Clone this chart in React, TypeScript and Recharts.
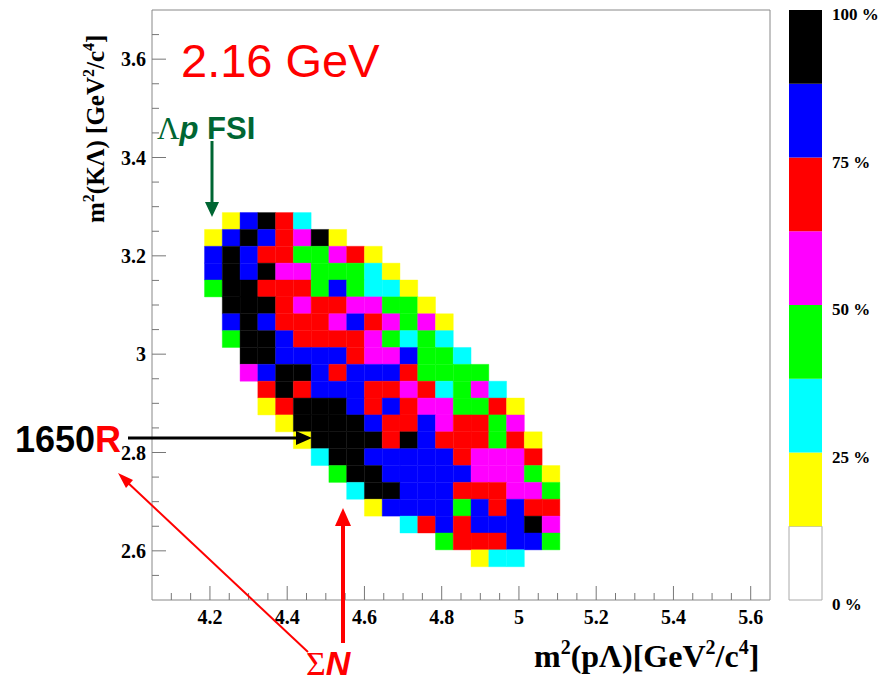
import React from 'react';
import { ScatterChart, XAxis, YAxis, ReferenceArea, BarChart, Bar } from 'recharts';

// axis ticks
const xMajor = [4.2, 4.4, 4.6, 4.8, 5, 5.2, 5.4, 5.6];
const yMajor = [2.6, 2.8, 3, 3.2, 3.4, 3.6];
const paletteTicks = [0, 25, 50, 75, 100];

// histogram binning (m2(pΛ) columns, m2(KΛ) rows counted from the top)
const xFirstEdge = 4.186;
const binW = 0.046;
const yFirstEdge = 3.288;
const binH = 0.0343;

// first occupied column of every row
const rowStart = [1, 0, 0, 0, 0, 1, 1, 1, 2, 2, 3, 3, 4, 5, 6, 7, 8, 9, 11, 13, 15];

// content of each bin in % of the maximum
const rowValues = [
  [19, 81, 94, 69, 31],
  [19, 81, 94, 81, 69, 56, 94, 19],
  [81, 94, 81, 69, 69, 44, 44, 56, 69, 19],
  [81, 94, 81, 94, 56, 56, 44, 44, 44, 31, 19],
  [44, 94, 94, 69, 69, 69, 44, 81, 44, 31, 31, 19],
  [94, 94, 94, 69, 56, 69, 69, 56, 56, 44, 44, 19],
  [81, 94, 81, 69, 69, 69, 56, 81, 69, 56, 44, 56, 19],
  [44, 94, 94, 81, 69, 69, 69, 69, 56, 44, 31, 44, 31],
  [94, 94, 81, 81, 81, 81, 69, 56, 56, 81, 44, 44, 31],
  [56, 81, 94, 94, 81, 69, 81, 81, 81, 69, 44, 44, 44, 44],
  [69, 94, 69, 81, 81, 81, 69, 69, 56, 69, 31, 44, 56, 31],
  [19, 69, 94, 94, 94, 81, 69, 81, 69, 56, 56, 44, 44, 69, 19],
  [19, 94, 94, 94, 94, 81, 69, 69, 81, 56, 69, 69, 44, 56],
  [19, 94, 94, 94, 94, 69, 94, 81, 69, 69, 69, 44, 69, 19],
  [31, 94, 94, 81, 81, 81, 81, 81, 69, 56, 56, 56, 69],
  [44, 94, 94, 81, 81, 81, 81, 81, 56, 56, 56, 44, 19],
  [31, 94, 94, 81, 81, 81, 69, 69, 69, 56, 56, 44],
  [19, 81, 81, 81, 81, 44, 81, 69, 81, 69, 69],
  [31, 69, 81, 69, 81, 81, 81, 94, 56],
  [44, 69, 69, 69, 81, 81, 44],
  [19, 31, 31],
];

const levelColors = ['#ffffff', '#ffff00', '#00ffff', '#00ff00', '#ff00ff', '#ff0000', '#0000ff', '#000000'];

const colorOf = (v: number) => levelColors[Math.min(7, Math.floor(v / 12.5))];

const cells = rowValues.flatMap((row, r) =>
  row.map((v, k) => {
    const c = rowStart[r] + k;
    return {
      x1: xFirstEdge + c * binW,
      x2: xFirstEdge + (c + 1) * binW,
      y2: yFirstEdge - r * binH,
      y1: yFirstEdge - (r + 1) * binH,
      v,
    };
  })
);

const xTicks: number[] = [];
for (let i = 0; i <= 30; i++) xTicks.push(Math.round((4.1 + i * 0.05) * 100) / 100);
const yTicks: number[] = [];
for (let i = 0; i <= 22; i++) yTicks.push(Math.round((2.55 + i * 0.05) * 100) / 100);

const isMajor = (v: number, list: number[]) => list.some((m) => Math.abs(m - v) < 1e-6);

const serif = '"Liberation Serif", "Times New Roman", serif';
const sans = '"Liberation Sans", Arial, sans-serif';

function XTick({ x, y, payload }: any) {
  const major = isMajor(payload.value, xMajor);
  return (
    <g>
      <line x1={x} y1={y} x2={x} y2={y - (major ? 14 : 7)} stroke="#777" />
      {major && (
        <text x={x} y={y + 24} textAnchor="middle" fontFamily={serif} fontWeight="bold" fontSize={20} fill="#000">
          {String(payload.value)}
        </text>
      )}
    </g>
  );
}

function YTick({ x, y, payload }: any) {
  const major = isMajor(payload.value, yMajor);
  return (
    <g>
      <line x1={x} y1={y} x2={x + (major ? 14 : 7)} y2={y} stroke="#777" />
      {major && (
        <text x={x - 6} y={y + 7} textAnchor="end" fontFamily={serif} fontWeight="bold" fontSize={20} fill="#000">
          {String(payload.value)}
        </text>
      )}
    </g>
  );
}

const paletteRow = [{ name: 'z', l0: 12.5, l1: 12.5, l2: 12.5, l3: 12.5, l4: 12.5, l5: 12.5, l6: 12.5, l7: 12.5 }];

export default function App() {
  return (
    <div style={{ position: 'absolute', left: 0, top: 0, width: 882, height: 684, background: '#fff' }}>
      <ScatterChart width={882} height={684} margin={{ top: 10, right: 112, bottom: 54, left: 92 }}>
        <XAxis
          type="number"
          dataKey="x"
          domain={[4.05, 5.65]}
          ticks={xTicks}
          interval={0}
          tick={<XTick />}
          tickSize={0}
          tickMargin={0}
          axisLine={false}
          height={30}
          allowDataOverflow
        />
        <YAxis
          type="number"
          dataKey="y"
          domain={[2.5, 3.7]}
          ticks={yTicks}
          interval={0}
          tick={<YTick />}
          tickSize={0}
          tickMargin={0}
          axisLine={false}
          width={60}
          allowDataOverflow
        />
        {cells.map((c, i) => (
          <ReferenceArea
            key={i}
            x1={c.x1}
            x2={c.x2}
            y1={c.y1}
            y2={c.y2}
            fill={colorOf(c.v)}
            fillOpacity={1}
            stroke={colorOf(c.v)}
            strokeWidth={0.4}
            ifOverflow="visible"
          />
        ))}
        <ReferenceArea x1={4.05} x2={5.65} y1={2.5} y2={3.7} fill="none" stroke="#888" strokeWidth={1} ifOverflow="visible" />
      </ScatterChart>

      <div style={{ position: 'absolute', left: 770, top: 0 }}>
        <BarChart width={112} height={684} data={paletteRow} margin={{ top: 10, right: 0, bottom: 84, left: 19 }} barCategoryGap={0}>
          <XAxis dataKey="name" hide />
          <YAxis
            orientation="right"
            domain={[0, 100]}
            ticks={paletteTicks}
            interval={0}
            width={60}
            axisLine={false}
            tickLine={false}
            tickMargin={4}
            tickFormatter={(v: number) => `${v} %`}
            tick={{ fontFamily: serif, fontWeight: 'bold', fontSize: 17, fill: '#000', textAnchor: 'start', dy: 4 }}
          />
          {levelColors.map((col, i) => (
            <Bar
              key={i}
              dataKey={`l${i}`}
              stackId="p"
              fill={col}
              stroke={i === 0 ? '#aaa' : 'none'}
              isAnimationActive={false}
            />
          ))}
        </BarChart>
      </div>

      <svg width={882} height={684} style={{ position: 'absolute', left: 0, top: 0, pointerEvents: 'none' }}>
        <text x={181} y={77} fontFamily={sans} fontSize={47} fill="#ff0000">2.16 GeV</text>

        <text x={157} y={139} fontSize={31} fill="#006633" fontFamily={sans}>
          <tspan fontFamily={serif}>Λ</tspan>
          <tspan fontWeight="bold" fontStyle="italic">p</tspan>
          <tspan fontWeight="bold"> FSI</tspan>
        </text>
        <line x1={212} y1={141} x2={212} y2={204} stroke="#006633" strokeWidth={3} />
        <polygon points="205,202 219,202 212,217" fill="#006633" />

        <text x={15} y={452} fontFamily={sans} fontWeight="bold" fontSize={36}>
          <tspan fill="#000">1650</tspan>
          <tspan fill="#ff0000">R</tspan>
        </text>
        <line x1={128} y1={438} x2={298} y2={438} stroke="#000" strokeWidth={3} />
        <polygon points="296,431 312,438 296,445" fill="#000" />

        <line x1={343} y1={643} x2={343} y2={524} stroke="#ff0000" strokeWidth={4} />
        <polygon points="335,526 351,526 343,508" fill="#ff0000" />
        <line x1={308} y1={652} x2={126} y2={481} stroke="#ff0000" strokeWidth={2} />
        <polygon points="118,473 133,480 126,488" fill="#ff0000" />
        <text x={306} y={675} fontFamily={sans} fontSize={34} fill="#ff0000">
          <tspan fontFamily={serif}>Σ</tspan>
          <tspan fontWeight="bold" fontStyle="italic">N</tspan>
        </text>

        <text x={534} y={667} fontFamily={serif} fontWeight="bold" fontSize={32} fill="#000">
          m<tspan fontSize={20} dy={-13}>2</tspan>
          <tspan dy={13}>(pΛ)[GeV</tspan>
          <tspan fontSize={20} dy={-13}>2</tspan>
          <tspan dy={13}>/c</tspan>
          <tspan fontSize={20} dy={-13}>4</tspan>
          <tspan dy={13}>]</tspan>
        </text>
        <text transform="translate(104,223) rotate(-90)" fontFamily={serif} fontWeight="bold" fontSize={25} fill="#000">
          m<tspan fontSize={16} dy={-10}>2</tspan>
          <tspan dy={10}>(KΛ) [GeV</tspan>
          <tspan fontSize={16} dy={-10}>2</tspan>
          <tspan dy={10}>/c</tspan>
          <tspan fontSize={16} dy={-10}>4</tspan>
          <tspan dy={10}>]</tspan>
        </text>
      </svg>
    </div>
  );
}
